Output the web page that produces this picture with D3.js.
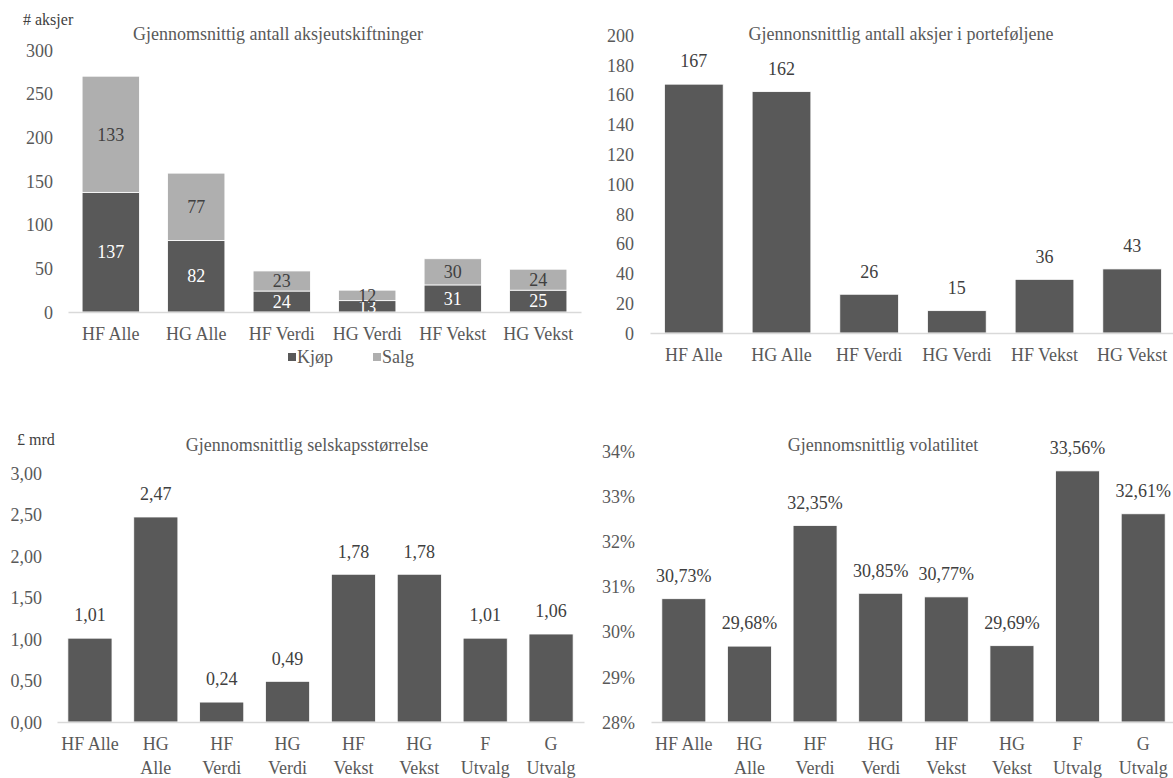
<!DOCTYPE html>
<html>
<head>
<meta charset="utf-8">
<script src="https://cdn.jsdelivr.net/npm/d3@7"></script>
<style>
    body { margin: 0; background: #fff; }
</style>
</head>
<body>
<svg id="chart" width="1173" height="778"></svg>
<script>
"use strict";

var categories = ['HF Alle', 'HG Alle', 'HF Verdi', 'HG Verdi', 'HF Vekst', 'HG Vekst'];
var categoriesUtvalg = categories.concat(['F Utvalg', 'G Utvalg']);

var kjop = [137, 82, 24, 13, 31, 25];
var salg = [133, 77, 23, 12, 30, 24];
var antallAksjer = [167, 162, 26, 15, 36, 43];
var selskapsstorrelse = [1.01, 2.47, 0.24, 0.49, 1.78, 1.78, 1.01, 1.06];
var volatilitet = [30.73, 29.68, 32.35, 30.85, 30.77, 29.69, 33.56, 32.61];

var ticksUtskiftninger = [0, 50, 100, 150, 200, 250, 300];
var ticksAksjer = [0, 20, 40, 60, 80, 100, 120, 140, 160, 180, 200];
var ticksStorrelse = [0, 0.5, 1, 1.5, 2, 2.5, 3];
var ticksVolatilitet = [28, 29, 30, 31, 32, 33, 34];

var DARK = '#595959';
var LIGHT = '#afafaf';
var TEXT = '#595959';
var LABEL = '#404040';
var FONT = 18;
var SERIF = 'Liberation Serif';

var no = d3.formatLocale({decimal: ',', thousands: ' ', grouping: [3], currency: ['', '']});
var fmtInt = no.format('d');
var fmt2 = no.format('.2f');
var fmtPct = function(d) { return no.format('.2f')(d) + '%'; };
var fmtPct0 = function(d) { return no.format('d')(d) + '%'; };

var svg = d3.select('#chart');

// wraps tick labels on spaces when they do not fit in the band
function wrapLabels(texts, maxWidth, lineHeight) {
    texts.each(function() {
        var text = d3.select(this);
        if (this.getComputedTextLength() <= maxWidth) {
            return;
        }
        var words = text.text().split(' ');
        var y = text.attr('y'), dy = text.attr('dy');
        text.text(null);
        words.forEach(function(w, i) {
            text.append('tspan')
                .attr('x', 0)
                .attr('y', y)
                .attr('dy', i === 0 ? dy : (parseFloat(dy) * FONT + i * lineHeight) + 'px')
                .text(w);
        });
    });
}

function panel(opts) {
    var g = svg.append('g');

    var x = d3.scaleBand()
              .domain(opts.categories)
              .range([opts.x0, opts.x1])
              .paddingInner(0.33)
              .paddingOuter(0.165);
    var y = d3.scaleLinear()
              .domain([opts.ticks[0], opts.ticks[opts.ticks.length - 1]])
              .range([opts.yBase, opts.yTop]);

    var yAxis = g.append('g')
                 .attr('transform', 'translate(' + opts.labelRight + ',0)')
                 .call(d3.axisLeft(y).tickValues(opts.ticks).tickSize(0).tickPadding(0).tickFormat(opts.tickFormat))
                 .attr('font-family', SERIF)
                 .attr('font-size', FONT);
    yAxis.select('.domain').remove();
    yAxis.selectAll('text')
         .attr('font-family', SERIF)
         .attr('fill', TEXT)
         .attr('dy', '0.35em');

    g.append('text')
     .attr('x', opts.titleX)
     .attr('y', opts.titleY)
     .attr('text-anchor', 'middle')
     .attr('font-family', SERIF)
     .attr('font-size', FONT)
     .attr('fill', TEXT)
     .text(opts.title);

    if (opts.unit) {
        g.append('text')
         .attr('x', opts.unit.x)
         .attr('y', opts.unit.y)
         .attr('font-family', SERIF)
         .attr('font-size', 16)
         .attr('fill', LABEL)
         .text(opts.unit.text);
    }

    opts.series.forEach(function(s) {
        var top = function(i) { return y(s.base[i] + s.values[i]); };
        var bottom = function(i) { return y(s.base[i]); };

        g.append('g').selectAll('rect')
         .data(s.values)
         .join('rect')
            .attr('x', function(d, i) { return x(opts.categories[i]); })
            .attr('width', x.bandwidth())
            .attr('y', function(d, i) { return top(i); })
            .attr('height', function(d, i) { return bottom(i) - top(i); })
            .attr('fill', s.color)
            .attr('stroke', '#fff')
            .attr('stroke-width', 0.8);

        g.append('g').selectAll('text')
         .data(s.labels || s.values)
         .join('text')
            .attr('x', function(d, i) { return x(opts.categories[i]) + x.bandwidth() / 2; })
            .attr('y', function(d, i) {
                return s.inside ? (top(i) + bottom(i)) / 2 : top(i) - 23;
            })
            .attr('dy', '0.35em')
            .attr('text-anchor', 'middle')
            .attr('font-family', SERIF)
            .attr('font-size', FONT)
            .attr('fill', s.labelColor)
            .text(opts.labelFormat);
    });

    var xAxis = g.append('g')
                 .attr('transform', 'translate(0,' + opts.yBase + ')')
                 .call(d3.axisBottom(x).tickSize(0).tickSizeOuter(0).tickPadding(15))
                 .attr('font-family', SERIF)
                 .attr('font-size', FONT);
    xAxis.select('.domain')
         .attr('stroke', '#d9d9d9')
         .attr('stroke-width', 1.5);
    xAxis.selectAll('text')
         .attr('font-family', SERIF)
         .attr('fill', TEXT)
         .call(wrapLabels, opts.wrapWidth, 24);

    return {g: g, x: x, y: y};
}

var zeros = categories.map(function() { return 0; });

panel({
    categories: categories,
    x0: 68, x1: 581, yBase: 312, yTop: 50, labelRight: 53, wrapWidth: 80,
    ticks: ticksUtskiftninger, tickFormat: fmtInt, labelFormat: fmtInt,
    title: 'Gjennomsnittig antall aksjeutskiftninger', titleX: 278, titleY: 40,
    unit: {text: '# aksjer', x: 23, y: 25},
    series: [
        {values: kjop, base: zeros, color: DARK, labelColor: '#fff', inside: true},
        {values: salg, base: kjop, color: LIGHT, labelColor: LABEL, inside: true}
    ]
});

// legend
var legend = svg.append('g');
[{name: 'Kjøp', color: DARK, x: 288}, {name: 'Salg', color: LIGHT, x: 373}].forEach(function(l) {
    legend.append('rect')
          .attr('x', l.x).attr('y', 353).attr('width', 8).attr('height', 8)
          .attr('fill', l.color);
    legend.append('text')
          .attr('x', l.x + 9).attr('y', 363)
          .attr('font-family', SERIF)
          .attr('font-size', FONT)
          .attr('fill', TEXT)
          .text(l.name);
});

panel({
    categories: categories,
    x0: 650, x1: 1176, yBase: 333, yTop: 35, labelRight: 634, wrapWidth: 80,
    ticks: ticksAksjer, tickFormat: fmtInt, labelFormat: fmtInt,
    title: 'Gjennonsnittlig antall aksjer i porteføljene', titleX: 901, titleY: 40,
    series: [
        {values: antallAksjer, base: zeros.slice(), color: DARK, labelColor: LABEL}
    ]
});

var zeros8 = categoriesUtvalg.map(function() { return 0; });

panel({
    categories: categoriesUtvalg,
    x0: 57, x1: 584, yBase: 722, yTop: 473, labelRight: 42, wrapWidth: 60,
    ticks: ticksStorrelse, tickFormat: fmt2, labelFormat: fmt2,
    title: 'Gjennomsnittlig selskapsstørrelse', titleX: 307, titleY: 451,
    unit: {text: '£ mrd', x: 17, y: 445},
    series: [
        {values: selskapsstorrelse, base: zeros8, color: DARK, labelColor: LABEL}
    ]
});

// volatility bars start at the 28% axis floor
var floor = categoriesUtvalg.map(function() { return 28; });
panel({
    categories: categoriesUtvalg,
    x0: 651, x1: 1176, yBase: 722, yTop: 451, labelRight: 635, wrapWidth: 60,
    ticks: ticksVolatilitet, tickFormat: fmtPct0, labelFormat: fmtPct,
    title: 'Gjennomsnittlig volatilitet', titleX: 883, titleY: 451,
    series: [
        {values: volatilitet.map(function(v) { return v - 28; }), labels: volatilitet,
         base: floor, color: DARK, labelColor: LABEL}
    ]
});
</script>
</body>
</html>
